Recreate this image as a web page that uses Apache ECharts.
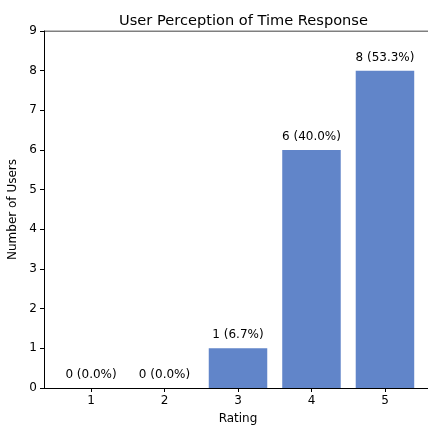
<!DOCTYPE html>
<html><head><meta charset="utf-8">
<script src="https://cdn.jsdelivr.net/npm/echarts@6/dist/echarts.min.js"></script>
<style>html,body{margin:0;padding:0;background:#fff}#c{width:428px;height:426px}</style>
</head><body><div id="c"></div>
<script>
const ratings = [1, 2, 3, 4, 5];
const counts = [0, 0, 1, 6, 8];
const percents = ['0.0', '0.0', '6.7', '40.0', '53.3'];
const yTicks = [0, 1, 2, 3, 4, 5, 6, 7, 8, 9];

const font = 'DejaVu Sans';
const chart = echarts.init(document.getElementById('c'));
chart.setOption({
  animation: false,
  title: {text: 'User Perception of Time Response', left: 238.5, top: 9, textAlign: 'center',
    textStyle: {fontFamily: font, fontSize: 14.6, fontWeight: 'normal', color: '#000'}},
  grid: {left: 44, right: -4, top: 31, bottom: 38, outerBoundsMode: 'none', containLabel: false},
  xAxis: {type: 'value', min: 0.36, max: 5.64, interval: 1,
    name: 'Rating', nameLocation: 'middle', nameGap: 25,
    nameTextStyle: {fontFamily: font, fontSize: 12, color: '#000'},
    axisLine: {show: true, lineStyle: {color: '#000', width: 1}},
    axisTick: {show: true, length: 4, lineStyle: {color: '#000'}, customValues: ratings},
    axisLabel: {fontFamily: font, fontSize: 12, color: '#000', margin: 7, customValues: ratings},
    splitLine: {show: false}},
  yAxis: {type: 'value', min: 0, max: 9, interval: 1,
    name: 'Number of Users', nameLocation: 'middle', nameGap: 19, nameRotate: 90,
    nameTextStyle: {fontFamily: font, fontSize: 12, color: '#000'},
    axisLine: {show: true, lineStyle: {color: '#000', width: 1}},
    axisTick: {show: true, length: 4, lineStyle: {color: '#000'}},
    axisLabel: {fontFamily: font, fontSize: 12, color: '#000', margin: 7},
    splitLine: {show: false}},
  series: [{
    type: 'bar', barWidth: 58.5,
    data: ratings.map((r, i) => [r, counts[i]]),
    itemStyle: {color: '#6185C9'},
    label: {show: true, position: 'top', distance: 7, fontFamily: font, fontSize: 12, color: '#000',
      formatter: p => counts[p.dataIndex] + ' (' + percents[p.dataIndex] + '%)'}
  }, {
    type: 'line', data: [[0.36, 9], [5.64, 9]], symbol: 'none', silent: true,
    lineStyle: {color: '#000', width: 1}
  }]
});
</script></body></html>
